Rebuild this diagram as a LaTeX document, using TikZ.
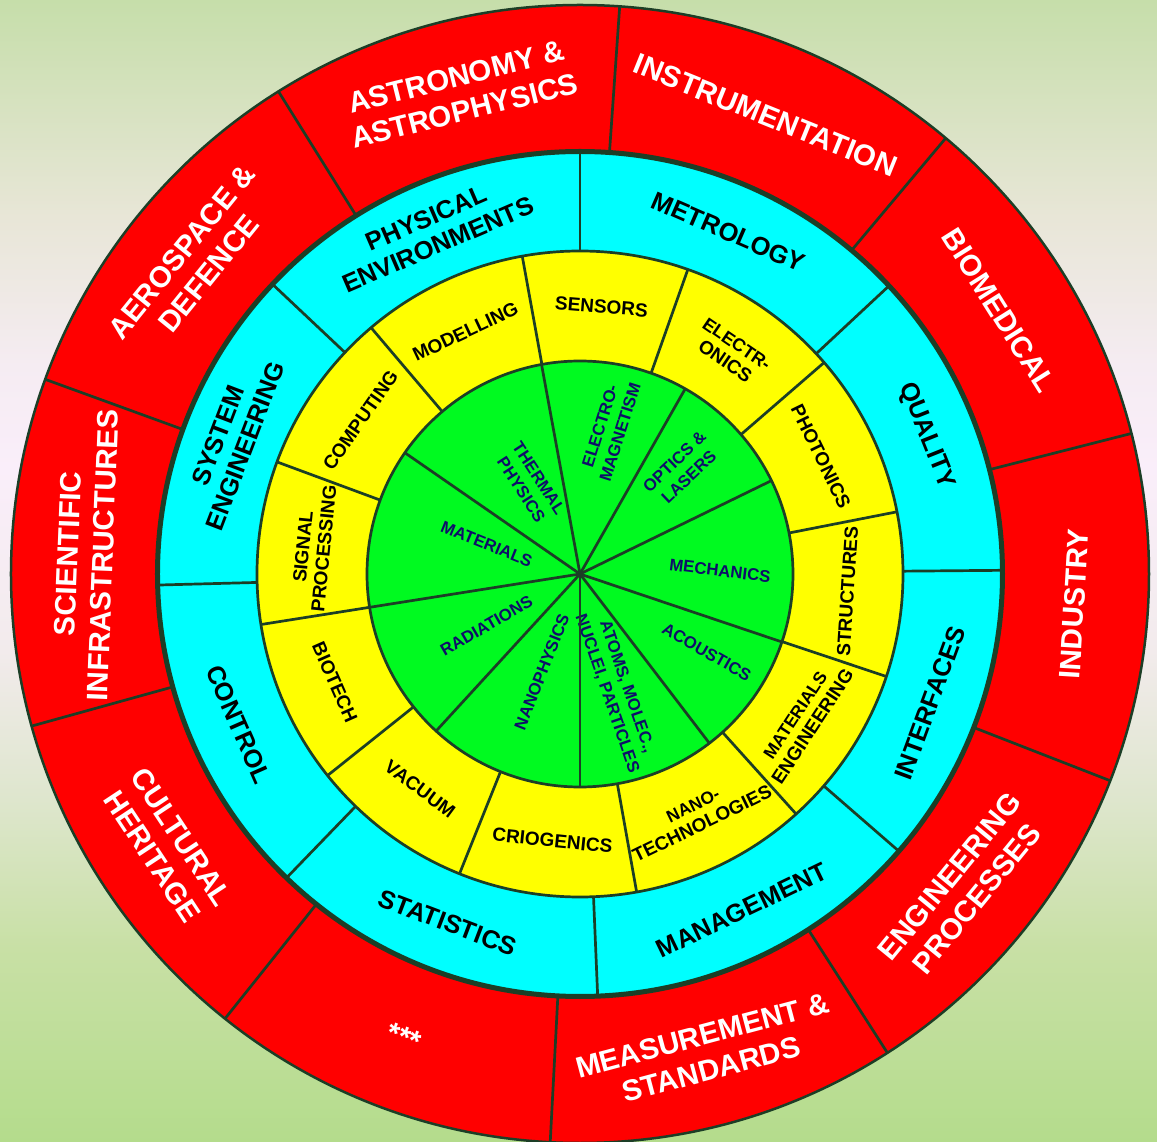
\documentclass[tikz,border=0pt]{standalone}
\usepackage{fontspec}
\setmainfont{Liberation Sans}
\definecolor{ringline}{RGB}{28,62,38}
\definecolor{ringred}{RGB}{255,0,0}
\definecolor{ringcyan}{RGB}{0,255,255}
\definecolor{ringyellow}{RGB}{255,255,0}
\definecolor{ringgreen}{RGB}{0,250,32}
\definecolor{coretext}{RGB}{14,14,105}
\definecolor{bgA}{RGB}{180,220,140}
\definecolor{bgB}{RGB}{200,224,165}
\definecolor{bgC}{RGB}{222,230,205}
\definecolor{bgD}{RGB}{242,235,236}
\definecolor{bgE}{RGB}{250,238,250}
\definecolor{bgF}{RGB}{245,236,242}
\definecolor{bgG}{RGB}{232,230,215}
\definecolor{bgH}{RGB}{198,222,170}
\pgfdeclareverticalshading{backdrop}{100bp}{color(0bp)=(bgA); color(25bp)=(bgA); color(33.5bp)=(bgB);
  color(40bp)=(bgC); color(46.5bp)=(bgD); color(54.5bp)=(bgE); color(59bp)=(bgF);
  color(65.5bp)=(bgG); color(75bp)=(bgH); color(100bp)=(bgH)}

\begin{document}
\begin{tikzpicture}
  [x=1pt, y=1pt,
    OuterLabel/.style={text=white, font=\bfseries\fontsize{29.5}{35}\selectfont, align=center, inner sep=0pt},
    MidLabel/.style={text=black, font=\bfseries\fontsize{25.5}{29}\selectfont, align=center, inner sep=0pt},
    InnerLabel/.style={text=black, font=\bfseries\fontsize{19}{21}\selectfont, align=center, inner sep=0pt},
    CoreLabel/.style={text=coretext, font=\bfseries\fontsize{16.8}{21}\selectfont, align=center, inner sep=0pt},
    Divider/.style={draw=ringline, line width=2.7pt}]
  \useasboundingbox (-580,-568) rectangle (577,574);
  \shade[shading=backdrop] (-580,-568) rectangle (577,574);

  % rings
  \filldraw[fill=ringred, draw=ringline, line width=2.5pt] (0,0) circle (569);
  \filldraw[fill=ringcyan, draw=ringline, line width=5pt] (0,0) circle (422.5);
  \filldraw[fill=ringyellow, draw=ringline, line width=2.7pt] (0,0) circle (323);
  \filldraw[fill=ringgreen, draw=ringline, line width=2.7pt] (0,0) circle (213);

  % outer ring: fields of application
  \foreach \a/\b/\txt in {86/50/INSTRUMENTATION, 50/14.3/BIOMEDICAL, 14.3/-21.3/INDUSTRY,
      -21.3/-57.3/ENGINEERING\\PROCESSES, -57.3/-93/MEASUREMENT \&\\STANDARDS, -93/-128.6/***,
      -128.6/-164.5/CULTURAL\\HERITAGE, 195.5/160/SCIENTIFIC\\INFRASTRUCTURES,
      160/122/AEROSPACE \&\\DEFENCE, 122/86/ASTRONOMY \&\\ASTROPHYSICS}{
    \pgfmathsetmacro\ang{(\a+\b)/2}
    \pgfmathsetmacro\tilt{\ang>0 ? \ang-90 : \ang+90}
    \draw[Divider] (\a:422.5) -- (\a:569);
    \node[OuterLabel, rotate=\tilt] at (\ang:495) {\txt};
  }

  % second ring
  \foreach \a/\b/\txt in {90/43/METROLOGY, 43/0.5/QUALITY, 0.5/-41/INTERFACES,
      -41/-87.6/MANAGEMENT, -87.6/-134/STATISTICS, -134/-178.5/CONTROL,
      181.5/136.7/SYSTEM\\ENGINEERING, 136.7/90/PHYSICAL\\ENVIRONMENTS}{
    \pgfmathsetmacro\ang{(\a+\b)/2}
    \pgfmathsetmacro\tilt{\ang>0 ? \ang-90 : \ang+90}
    \draw[Divider] (\a:323) -- (\a:422.5);
    \node[MidLabel, rotate=\tilt] at (\ang:373) {\txt};
  }

  % third ring
  \foreach \a/\b/\txt in {100.3/70.5/SENSORS, 70.5/40.9/{\fontsize{18}{20}\selectfont ELECTR-\\ONICS},
      40.9/11.1/PHOTONICS, 11.1/-18.5/STRUCTURES,
      -18.5/-48/{\fontsize{17.5}{19.5}\selectfont MATERIALS\\ENGINEERING},
      -48/-79.9/{\fontsize{17.3}{19}\selectfont NANO-\\TECHNOLOGIES}, -79.9/-111.9/CRIOGENICS,
      -111.9/-141.4/VACUUM, -141.4/-171/BIOTECH, 189/159.7/SIGNAL\\PROCESSING,
      159.7/130.3/COMPUTING, 130.3/100.3/MODELLING}{
    \pgfmathsetmacro\ang{(\a+\b)/2}
    \pgfmathsetmacro\tilt{\ang>0 ? \ang-90 : \ang+90}
    \draw[Divider] (\a:213) -- (\a:323);
    \node[InnerLabel, rotate=\tilt] at (\ang:268) {\txt};
  }

  % core
  \foreach \a/\p/\r/\tilt/\txt in {100.4/78.3/148/72.5/ELECTRO-\\MAGNETISM,
      60.4/45.9/146/43.5/OPTICS \&\\LASERS, 26/1.4/140/-7/MECHANICS,
      -18.6/-31.7/149/-29.5/ACOUSTICS, -52.6/-72.5/122/-71/{ATOMS, MOLEC.,\\NUCLEI, PARTICLES},
      -90/-111.3/105/68.5/NANOPHYSICS, -132.5/-151/107/30/RADIATIONS,
      -171/162.2/98/-22/MATERIALS, 145.3/119/103/-57/THERMAL\\PHYSICS}{
    \draw[Divider] (0,0) -- (\a:213);
    \node[CoreLabel, rotate=\tilt] at (\p:\r) {\txt};
  }
\end{tikzpicture}
\end{document}
